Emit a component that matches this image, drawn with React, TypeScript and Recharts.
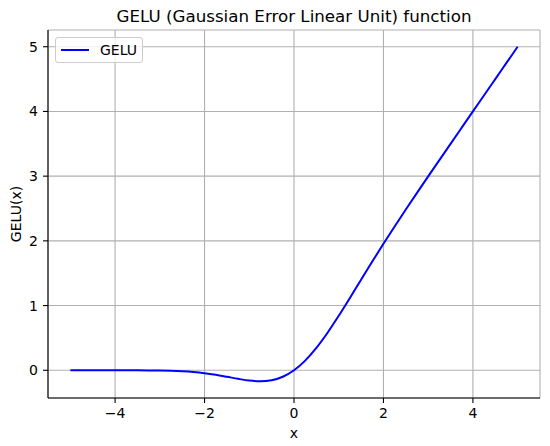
import { LineChart, Line, XAxis, YAxis, CartesianGrid, Legend } from 'recharts';

// values
const xValues = [
  -5, -4.75, -4.5, -4.25, -4, -3.75, -3.5, -3.25, -3, -2.75, -2.5, -2.25, -2, -1.75, -1.5, -1.25, -1,
  -0.75, -0.5, -0.25, 0, 0.25, 0.5, 0.75, 1, 1.25, 1.5, 1.75, 2, 2.25, 2.5, 2.75, 3, 3.25, 3.5, 3.75,
  4, 4.25, 4.5, 4.75, 5,
];
const geluValues = [
  0, 0, 0, 0, -0.0001, -0.0003, -0.0008, -0.0019, -0.004, -0.0082, -0.0155, -0.0275, -0.0455, -0.0701,
  -0.1002, -0.132, -0.1587, -0.17, -0.1543, -0.1003, 0, 0.1497, 0.3457, 0.58, 0.8413, 1.118, 1.3998,
  1.6799, 1.9545, 2.2225, 2.4845, 2.7418, 2.996, 3.2481, 3.4992, 3.7497, 4.0, 4.25, 4.5, 4.75, 5.0,
];
const xTicks = [-4, -2, 0, 2, 4];
const yTicks = [0, 1, 2, 3, 4, 5];

const data = xValues.map((x, i) => ({ x, gelu: geluValues[i] }));

const FONT = '"DejaVu Sans", sans-serif';
const tickStyle = { fontSize: 14, fill: '#000', fontFamily: FONT };
const fmt = (v: number) => (v < 0 ? `\u2212${Math.abs(v)}` : `${v}`);

function LegendBox() {
  return (
    <div
      style={{
        boxSizing: 'border-box',
        width: 88,
        height: 26,
        border: '1px solid #cccccc',
        borderRadius: 3,
        background: 'rgba(255,255,255,0.8)',
        display: 'flex',
        alignItems: 'center',
        paddingLeft: 5,
        fontFamily: FONT,
        fontSize: 14,
        color: '#000',
      }}
    >
      <svg width={28} height={4} style={{ display: 'block' }}>
        <line x1={0} y1={2} x2={28} y2={2} stroke="#0000ff" strokeWidth={2} />
      </svg>
      <span style={{ marginLeft: 11, lineHeight: 1 }}>GELU</span>
    </div>
  );
}

export default function App() {
  return (
    <div style={{ position: 'absolute', left: 0, top: 0, width: 550, height: 446, background: '#fff' }}>
      <div
        style={{
          position: 'absolute',
          left: 48,
          width: 492,
          top: 8,
          textAlign: 'center',
          fontFamily: FONT,
          fontSize: 16.7,
          lineHeight: 1,
          color: '#000',
        }}
      >
        GELU (Gaussian Error Linear Unit) function
      </div>
      <LineChart width={550} height={446} data={data} margin={{ top: 30, right: 10, bottom: 0, left: 0 }}>
        <CartesianGrid stroke="#b0b0b0" strokeWidth={1.1} />
        <XAxis
          dataKey="x"
          type="number"
          domain={[-5.5, 5.5]}
          ticks={xTicks}
          allowDataOverflow
          height={48}
          tick={tickStyle}
          tickFormatter={fmt}
          tickSize={5}
          tickMargin={5}
          stroke="#000"
          axisLine={{ stroke: '#000', strokeWidth: 1.1 }}
          tickLine={{ stroke: '#000', strokeWidth: 1.1 }}
          label={{ value: 'x', position: 'insideBottom', offset: 8, style: { fontSize: 14, fill: '#000', fontFamily: FONT } }}
        />
        <YAxis
          type="number"
          domain={[-0.4285, 5.2585]}
          ticks={yTicks}
          allowDataOverflow
          width={48}
          tick={tickStyle}
          tickFormatter={fmt}
          tickSize={5}
          tickMargin={5}
          stroke="#000"
          axisLine={{ stroke: '#000', strokeWidth: 1.1 }}
          tickLine={{ stroke: '#000', strokeWidth: 1.1 }}
          label={{
            content: (props: any) => {
              const vb = props.viewBox || { x: 0, y: 30, width: 48, height: 368 };
              const cx = vb.x + 16;
              const cy = vb.y + vb.height / 2;
              return (
                <text
                  x={cx}
                  y={cy}
                  transform={`rotate(-90, ${cx}, ${cy})`}
                  textAnchor="middle"
                  dominantBaseline="central"
                  fontSize={14}
                  fontFamily={FONT}
                  fill="#000"
                >
                  GELU(x)
                </text>
              );
            },
          }}
        />
        <XAxis
          xAxisId="top"
          orientation="top"
          type="number"
          domain={[-5.5, 5.5]}
          height={0}
          tick={false}
          tickLine={false}
          axisLine={{ stroke: '#000', strokeWidth: 1.1 }}
        />
        <YAxis
          yAxisId="right"
          orientation="right"
          type="number"
          domain={[-0.4285, 5.2585]}
          width={0}
          tick={false}
          tickLine={false}
          axisLine={{ stroke: '#000', strokeWidth: 1.1 }}
        />
        <Legend
          layout="vertical"
          align="center"
          verticalAlign="middle"
          wrapperStyle={{ left: 55, top: 37, width: 88 }}
          content={() => <LegendBox />}
        />
        <Line
          type="monotone"
          dataKey="gelu"
          stroke="#0000ff"
          strokeWidth={2}
          dot={false}
          isAnimationActive={false}
        />
      </LineChart>
    </div>
  );
}
